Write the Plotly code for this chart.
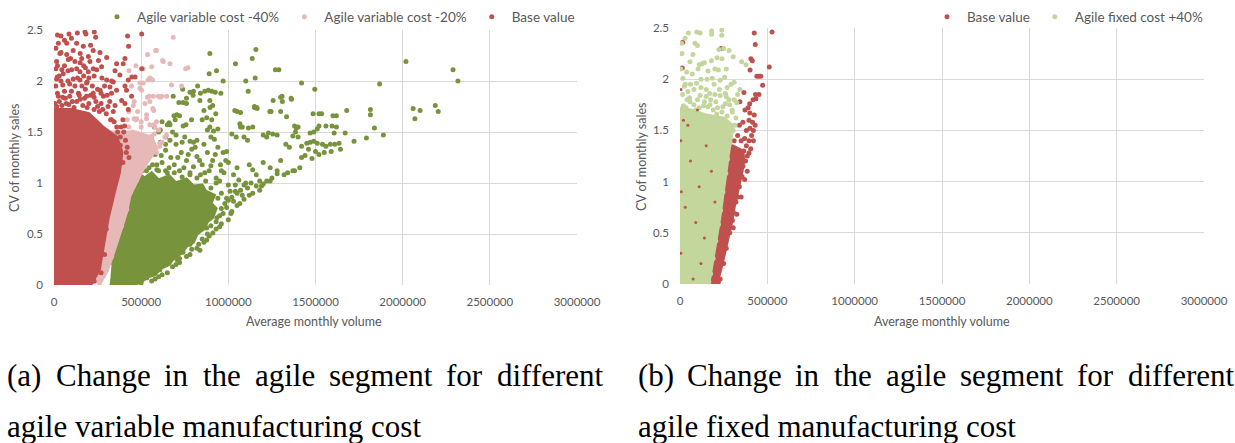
import plotly.graph_objects as go

W, H = 1235, 443

# ---------------- colours ----------------
C_GREEN = "#77933C"   # Agile variable cost -40%
C_PINK = "#E6B9B8"    # Agile variable cost -20%
C_RED = "#C0504D"     # Base value
C_LGREEN = "#C3D69B"  # Agile fixed cost +40%

# ---------------- axis ticks ----------------
x_ticks = [0, 500000, 1000000, 1500000, 2000000, 2500000, 3000000]
x_ticktext = ["0", "500000", "1000000", "1500000", "2000000", "2500000", "3000000"]
y_ticks = [0, 0.5, 1, 1.5, 2, 2.5]
y_ticktext = ["0", "0.5", "1", "1.5", "2", "2.5"]

# =============== (a) agile variable cost ===============
# dense cores (outline of the solid part of each cloud)
a_green_core_x = [320e3, 450e3, 500e3, 540e3, 580e3, 610e3, 660e3, 690e3, 730e3, 760e3, 800e3, 820e3, 860e3, 880e3, 910e3,
                  930e3, 900e3, 920e3, 870e3, 850e3, 800e3, 760e3, 700e3, 660e3, 600e3, 560e3, 520e3, 480e3, 420e3, 330e3]
a_green_core_y = [0.0, 0.0, 0.03, 0.08, 0.1, 0.16, 0.2, 0.27, 0.31, 0.38, 0.42, 0.5, 0.55, 0.62, 0.66,
                  0.75, 0.8, 0.88, 0.92, 0.98, 0.97, 1.04, 1.0, 1.07, 1.03, 1.1, 1.05, 1.1, 0.8, 0.2]
a_green_x = [894e3, 1158e3, 1041e3, 932e3, 890e3, 1137e3, 1154e3, 1270e3, 1290e3, 1420e3, 1496e3, 970e3, 1100e3, 1114e3, 824e3, 738e3,
             865e3, 885e3, 905e3, 925e3, 798e3, 760e3, 684e3, 716e3, 837e3, 894e3, 1308e3, 1257e3, 1362e3, 1163e3, 1150e3, 1037e3,
             1238e3, 1334e3, 1486e3, 928e3, 860e3, 789e3, 688e3, 695e3, 665e3, 741e3, 850e3, 876e3, 905e3, 1066e3, 1080e3, 1115e3,
             1140e3, 1380e3, 1400e3, 1230e3, 1255e3, 1280e3, 1490e3, 1510e3, 1020e3, 1045e3, 1370e3, 1400e3, 1470e3, 1490e3, 880e3,
             915e3, 940e3,
             2019e3, 2289e3, 2317e3, 1868e3, 2060e3, 2100e3, 2070e3, 2187e3, 2204e3, 1679e3, 1815e3, 1815e3, 1838e3, 1889e3, 1792e3,
             1721e3, 1670e3, 1607e3, 1643e3, 1535e3, 1600e3, 1620e3, 1520e3, 1560e3, 1595e3, 1620e3, 1469e3, 1450e3, 1510e3, 1540e3,
             1585e3, 1610e3, 1635e3, 1440e3, 1500e3, 1520e3, 1550e3, 1420e3, 1480e3,
             957e3, 780e3, 800e3, 840e3, 740e3, 760e3, 705e3, 720e3, 660e3, 650e3, 895e3, 910e3, 1050e3, 1070e3, 1150e3, 1165e3,
             1245e3, 1300e3, 1310e3, 1300e3, 1360e3, 1520e3, 1390e3, 1385e3, 1070e3, 894e3, 757e3, 780e3, 800e3, 820e3, 900e3, 920e3,
             970e3, 990e3, 1090e3, 1110e3, 1200e3, 1220e3, 1330e3, 1350e3, 1420e3, 1460e3, 1560e3, 1590e3, 1200e3, 1240e3, 1280e3,
             1300e3, 1340e3, 1380e3, 1140e3, 1160e3, 1180e3, 1120e3, 1030e3, 1060e3, 1000e3, 1050e3, 960e3, 1000e3,
             550e3, 580e3, 610e3, 640e3, 670e3, 700e3, 730e3, 760e3, 790e3, 820e3, 850e3, 880e3, 910e3, 940e3, 620e3, 660e3, 720e3,
             780e3, 840e3, 890e3, 930e3, 560e3, 600e3, 700e3, 750e3, 680e3, 640e3, 590e3, 520e3,
             533e3, 493e3, 550e3, 607e3, 640e3, 665e3, 705e3, 740e3, 780e3, 800e3, 837e3, 876e3, 876e3, 911e3, 934e3, 950e3, 990e3,
             1000e3, 1020e3, 1066e3, 1080e3, 1140e3, 1110e3, 1220e3, 1180e3, 1280e3, 1370e3, 1410e3, 1250e3, 1320e3, 1030e3, 970e3,
             420e3, 380e3, 345e3, 990e3, 1040e3, 1090e3, 1130e3, 1190e3,
             480e3, 505e3, 530e3, 545e3, 565e3, 600e3, 615e3, 650e3, 690e3, 710e3, 745e3, 770e3, 800e3, 835e3, 865e3, 900e3,
             925e3, 950e3, 975e3, 1010e3, 1040e3, 1070e3, 1100e3, 955e3, 985e3, 640e3, 665e3, 735e3, 810e3, 860e3, 500e3, 530e3,
             575e3, 620e3, 610e3,
             1015e3, 1050e3, 1090e3, 1120e3, 960e3, 930e3, 890e3, 860e3, 820e3, 780e3, 720e3, 680e3, 620e3, 580e3, 500e3, 1160e3,
             1200e3, 1240e3,
             560e3, 600e3, 650e3, 700e3, 720e3, 760e3, 790e3, 830e3, 850e3, 880e3, 900e3, 930e3, 950e3, 960e3, 980e3, 1000e3,
             940e3, 960e3, 1020e3, 1050e3, 900e3, 930e3, 870e3, 820e3, 780e3, 735e3, 690e3, 640e3, 590e3, 545e3, 505e3, 470e3]
a_green_y = [2.27, 2.31, 2.17, 2.10, 2.07, 2.22, 2.03, 2.11, 2.11, 1.98, 1.92, 2.00, 2.00, 1.90, 1.95, 1.92,
             1.90, 1.91, 1.90, 1.89, 1.86, 1.83, 1.85, 1.79, 1.81, 1.81, 1.85, 1.81, 1.82, 1.74, 1.75, 1.71,
             1.70, 1.65, 1.68, 1.68, 1.71, 1.62, 1.66, 1.62, 1.57, 1.56, 1.62, 1.64, 1.62, 1.58, 1.55, 1.54,
             1.55, 1.56, 1.55, 1.49, 1.48, 1.47, 1.50, 1.53, 1.48, 1.45, 1.46, 1.45, 1.40, 1.41, 1.52,
             1.51, 1.53,
             2.19, 2.11, 2.00, 1.97, 1.73, 1.71, 1.63, 1.76, 1.70, 1.71, 1.72, 1.67, 1.54, 1.47, 1.44,
             1.41, 1.49, 1.49, 1.33, 1.68, 1.66, 1.66, 1.56, 1.56, 1.56, 1.55, 1.49, 1.39, 1.39, 1.38,
             1.38, 1.38, 1.39, 1.27, 1.31, 1.28, 1.30, 1.25, 1.24,
             1.88, 1.89, 1.90, 1.88, 1.79, 1.78, 1.67, 1.66, 1.59, 1.57, 1.74, 1.76, 1.70, 1.69, 1.74, 1.73,
             1.70, 1.70, 1.80, 1.84, 1.83, 1.68, 1.54, 1.50, 1.55, 1.55, 1.57, 1.41, 1.40, 1.42, 1.45, 1.43,
             1.30, 1.31, 1.45, 1.42, 1.47, 1.45, 1.38, 1.35, 1.36, 1.33, 1.36, 1.31, 1.20, 1.15, 1.12,
             1.22, 1.10, 1.12, 1.13, 1.08, 1.02, 1.18, 1.08, 1.03, 1.20, 1.15, 1.12, 0.98,
             1.35, 1.28, 1.40, 1.32, 1.25, 1.38, 1.30, 1.22, 1.33, 1.26, 1.18, 1.30, 1.22, 1.35, 1.20, 1.15, 1.12,
             1.10, 1.08, 1.12, 1.05, 1.45, 1.50, 1.47, 1.45, 1.50, 1.45, 1.18, 1.40,
             0.07, 0.05, 0.15, 0.15, 0.22, 0.26, 0.25, 0.32, 0.40, 0.46, 0.34, 0.44, 0.56, 0.51, 0.66, 0.57, 0.76,
             0.64, 0.72, 0.80, 0.88, 0.90, 0.95, 1.02, 0.93, 1.09, 1.12, 1.15, 1.05, 1.08, 0.82, 0.70,
             0.02, 0.01, 0.0, 0.85, 0.92, 0.98, 1.0, 0.97,
             1.15, 1.22, 1.12, 1.25, 1.18, 1.12, 1.27, 1.10, 1.18, 1.25, 1.15, 1.28, 1.16, 1.22, 1.10, 1.17,
             1.28, 1.02, 1.10, 0.92, 0.98, 0.93, 1.00, 1.18, 1.22, 1.38, 1.42, 1.40, 1.35, 1.38, 1.30, 1.45,
             1.55, 1.60, 1.52,
             0.70, 0.78, 0.84, 0.88, 0.60, 0.55, 0.48, 0.42, 0.36, 0.30, 0.22, 0.18, 0.10, 0.06, 0.02, 0.97,
             0.99, 1.02,
             0.04, 0.08, 0.12, 0.20, 0.26, 0.28, 0.35, 0.40, 0.45, 0.50, 0.58, 0.62, 0.68, 0.75, 0.80, 0.83,
             0.85, 0.90, 0.86, 0.90, 0.95, 1.00, 1.02, 1.05, 1.08, 1.06, 1.10, 1.12, 1.13, 1.15, 1.12, 1.18]

a_pink_core_x = [150e3, 245e3, 283e3, 302e3, 331e3, 359e3, 388e3, 417e3, 436e3, 474e3, 512e3, 550e3, 590e3, 560e3, 470e3, 300e3, 150e3]
a_pink_core_y = [0.0, 0.03, 0.07, 0.13, 0.26, 0.42, 0.56, 0.72, 0.88, 1.01, 1.14, 1.24, 1.34, 1.45, 1.5, 1.5, 1.4]
a_pink_x = [684e3, 583e3, 537e3, 623e3, 665e3, 755e3, 768e3, 732e3, 540e3, 555e3, 565e3, 493e3, 503e3, 535e3, 545e3, 569e3,
            610e3, 618e3, 567e3, 572e3, 522e3, 460e3, 470e3, 531e3, 573e3, 578e3, 636e3, 645e3, 607e3, 520e3, 540e3, 560e3,
            470e3, 490e3, 588e3, 627e3, 560e3, 512e3, 674e3, 550e3, 512e3, 493e3, 598e3, 646e3, 550e3, 531e3, 474e3, 455e3,
            550e3, 588e3, 607e3, 588e3, 550e3, 512e3, 474e3, 436e3, 417e3, 388e3, 359e3, 331e3, 302e3, 283e3, 262e3, 270e3,
            620e3, 600e3, 575e3, 500e3, 480e3,
            430e3, 450e3, 470e3, 440e3, 500e3, 480e3, 460e3, 430e3, 420e3, 445e3, 430e3, 470e3]
a_pink_y = [2.43, 2.30, 2.26, 2.20, 2.17, 2.12, 2.13, 1.95, 2.01, 2.02, 2.01, 1.98, 1.91, 1.84, 1.85, 1.85,
            1.84, 1.85, 1.73, 1.71, 1.78, 1.63, 1.62, 1.63, 1.57, 1.55, 1.45, 1.47, 1.39, 1.45, 1.44, 1.46,
            1.37, 1.36, 2.30, 2.19, 2.14, 2.12, 1.96, 2.03, 1.98, 1.93, 1.85, 1.85, 1.80, 1.67, 1.63, 1.76,
            1.57, 1.60, 1.36, 1.30, 1.26, 1.16, 1.03, 0.90, 0.74, 0.58, 0.44, 0.28, 0.15, 0.09, 0.02, 0.05,
            1.40, 1.52, 1.48, 1.55, 1.30,
            1.55, 1.50, 1.45, 1.42, 1.60, 1.70, 1.80, 1.70, 1.62, 1.95, 2.10, 2.15]

a_red_core_x = [0, 210e3, 260e3, 285e3, 310e3, 345e3, 375e3, 390e3, 360e3, 280e3, 200e3, 100e3, 0]
a_red_core_y = [0.0, 0.0, 0.15, 0.4, 0.65, 0.9, 1.1, 1.3, 1.45, 1.55, 1.68, 1.72, 1.72]
a_red_x = [40e3, 86e3, 134e3, 178e3, 183e3, 231e3, 239e3, 130e3, 168e3, 73e3, 25e3, 11e3, 34e3, 73e3, 82e3, 120e3,
           159e3, 197e3, 225e3, 264e3, 302e3, 206e3, 225e3, 197e3, 149e3, 101e3, 245e3, 273e3, 302e3, 340e3, 321e3, 359e3,
           407e3, 426e3, 422e3, 428e3, 407e3, 397e3, 359e3, 378e3, 447e3, 465e3, 503e3, 416e3, 445e3, 407e3, 426e3, 388e3,
           11e3, 15e3, 19e3, 53e3, 187e3, 149e3, 264e3, 283e3, 225e3, 187e3, 503e3,
           400e3, 410e3, 420e3, 430e3, 395e3, 380e3, 360e3, 330e3, 300e3, 280e3, 250e3, 350e3,
           30e3, 60e3, 90e3, 120e3, 150e3, 200e3, 240e3, 320e3, 350e3, 10e3, 40e3, 110e3, 170e3, 220e3, 70e3, 130e3,
           20e3, 100e3, 180e3, 270e3, 160e3, 50e3, 80e3, 140e3, 210e3, 250e3, 5e3, 290e3, 130e3, 170e3, 60e3, 95e3,
           30e3, 200e3, 395e3, 405e3, 415e3, 380e3, 370e3, 300e3, 290e3, 270e3, 230e3,
           15e3, 45e3, 85e3, 115e3, 165e3, 190e3, 230e3, 260e3, 310e3, 340e3, 25e3, 65e3, 105e3, 145e3, 175e3, 230e3,
           270e3, 305e3, 330e3, 15e3, 50e3, 90e3, 135e3, 190e3, 230e3, 275e3, 20e3, 45e3, 80e3, 150e3, 180e3, 255e3,
           40e3, 110e3, 150e3, 210e3, 60e3, 100e3, 20e3, 330e3, 350e3, 325e3, 345e3, 365e3, 385e3]
a_red_y = [2.44, 2.46, 2.47, 2.48, 2.46, 2.48, 2.43, 2.37, 2.34, 2.37, 2.37, 2.32, 2.27, 2.26, 2.21, 2.19,
           2.22, 2.24, 2.30, 2.28, 2.23, 2.19, 2.12, 2.09, 2.09, 2.11, 2.11, 2.14, 2.01, 1.99, 1.94, 1.91,
           1.95, 2.01, 2.44, 2.34, 2.22, 2.17, 2.17, 2.06, 2.04, 2.04, 2.12, 1.91, 1.85, 1.78, 1.72, 1.81,
           2.12, 2.19, 2.04, 2.07, 1.98, 2.01, 1.91, 1.85, 1.88, 1.85, 2.46,
           1.50, 1.42, 1.35, 1.25, 1.20, 1.45, 1.55, 1.62, 1.68, 1.72, 1.75, 1.25,
           1.80, 1.90, 1.85, 1.95, 1.82, 1.78, 1.80, 1.80, 1.76, 1.95, 2.00, 2.02, 2.05, 1.95, 1.78, 1.80,
           1.88, 1.90, 1.92, 1.78, 1.95, 1.84, 2.00, 1.88, 1.86, 1.92, 1.78, 1.95, 2.12, 2.15, 2.15, 2.22,
           2.05, 2.03, 1.62, 1.56, 1.30, 1.37, 1.18, 0.55, 0.30, 0.12, 0.04,
           1.75, 1.76, 1.77, 1.74, 1.76, 1.74, 1.72, 1.70, 1.75, 1.70, 1.85, 1.83, 1.80, 1.86, 1.83, 1.84,
           1.88, 1.86, 1.88, 2.02, 1.96, 1.97, 2.03, 1.99, 2.05, 2.03, 2.15, 2.11, 2.10, 2.18, 2.13, 2.20,
           2.28, 2.30, 2.27, 2.35, 2.40, 2.42, 2.45, 2.00, 2.10, 1.62, 1.60, 1.50, 1.55]

# =============== (b) agile fixed cost ===============
b_red_core_x = [0, 190e3, 215e3, 235e3, 255e3, 275e3, 295e3, 310e3, 330e3, 345e3, 355e3, 365e3, 360e3, 300e3, 0]
b_red_core_y = [0.0, 0.0, 0.03, 0.15, 0.3, 0.45, 0.6, 0.75, 0.9, 1.0, 1.1, 1.2, 1.3, 1.35, 1.35]
b_red_x = [230e3, 220e3, 250e3, 265e3, 285e3, 300e3, 305e3, 320e3, 330e3, 340e3, 355e3, 360e3, 375e3, 385e3, 365e3, 380e3,
           395e3, 370e3, 350e3, 410e3, 420e3, 400e3, 380e3, 430e3, 415e3, 395e3, 360e3, 340e3, 425e3, 400e3, 372e3, 390e3,
           399e3, 343e3, 418e3, 435e3, 432e3, 452e3, 366e3, 473e3, 440e3, 452e3, 463e3, 401e3, 511e3, 406e3, 414e3, 431e3,
           425e3, 527e3, 235e3, 15e3, 13e3, 330e3, 310e3, 420e3, 405e3, 395e3, 385e3, 370e3, 350e3, 325e3, 305e3]
b_red_y = [0.05, 0.02, 0.20, 0.35, 0.50, 0.62, 0.70, 0.80, 0.85, 0.95, 1.05, 1.15, 1.20, 1.25, 1.30, 1.35,
           1.40, 1.42, 1.40, 1.45, 1.50, 1.52, 1.50, 1.55, 1.58, 1.60, 1.58, 1.55, 1.65, 1.67, 1.70, 1.72,
           1.76, 1.78, 1.80, 1.81, 1.85, 1.85, 1.87, 1.94, 2.03, 2.03, 2.03, 2.09, 2.12, 2.20, 2.18, 2.34,
           2.45, 2.46, 2.30, 2.36, 2.11, 1.45, 1.40, 1.40, 1.32, 1.28, 1.10, 1.02, 0.85, 0.68, 0.55]
# base-value points showing through gaps of the +40% cloud
b_red_speck_x = [5e3, 8e3, 4e3, 6e3, 60e3, 110e3, 150e3, 90e3, 30e3, 180e3, 120e3, 45e3, 200e3, 75e3, 140e3, 100e3, 20e3]
b_red_speck_y = [0.3, 0.9, 1.4, 1.9, 1.2, 0.95, 1.35, 0.6, 0.75, 1.1, 0.2, 1.55, 0.8, 0.05, 0.45, 1.7, 1.6]

b_green_core_x = [0, 150e3, 170e3, 185e3, 200e3, 215e3, 228e3, 240e3, 255e3, 268e3, 280e3, 295e3, 300e3, 250e3, 150e3, 60e3, 0]
b_green_core_y = [0.0, 0.0, 0.05, 0.2, 0.35, 0.5, 0.65, 0.8, 1.0, 1.15, 1.3, 1.45, 1.55, 1.62, 1.65, 1.7, 1.72]
b_green_x = [165e3, 175e3, 190e3, 205e3, 220e3, 232e3, 246e3, 262e3, 272e3, 287e3, 305e3, 315e3, 320e3, 300e3, 240e3, 132e3,
             172e3, 57e3, 80e3, 298e3, 325e3, 200e3, 230e3, 260e3, 170e3, 80e3, 343e3, 292e3, 310e3, 155e3, 120e3, 185e3,
             230e3, 255e3, 17e3, 38e3, 103e3, 200e3, 220e3, 126e3, 110e3, 140e3, 57e3, 212e3, 240e3, 305e3, 353e3, 378e3,
             281e3, 223e3, 11e3, 74e3, 86e3, 100e3, 29e3, 48e3, 96e3, 115e3, 181e3, 181e3, 239e3, 239e3, 30e3, 60e3,
             100e3, 140e3, 260e3, 280e3, 15e3, 45e3, 120e3, 190e3, 215e3, 330e3, 270e3, 150e3, 5e3, 160e3, 70e3, 265e3,
             180e3, 250e3, 8e3, 20e3, 110e3, 160e3, 210e3, 270e3, 40e3,
             35e3, 90e3, 135e3, 205e3, 245e3, 285e3, 55e3, 115e3, 175e3, 225e3, 265e3, 310e3, 25e3, 95e3, 150e3, 195e3]
b_green_y = [0.02, 0.10, 0.25, 0.42, 0.58, 0.72, 0.90, 1.08, 1.22, 1.38, 1.50, 1.55, 1.62, 1.68, 1.68, 1.64,
             1.75, 1.78, 1.75, 1.70, 1.77, 1.85, 1.84, 1.86, 1.86, 1.90, 1.90, 1.95, 1.97, 2.00, 2.00, 2.01,
             1.99, 2.02, 2.01, 2.07, 2.10, 2.10, 2.09, 2.15, 2.14, 2.16, 2.17, 2.21, 2.20, 2.22, 2.17, 2.14,
             2.28, 2.29, 2.25, 2.24, 2.35, 2.33, 2.40, 2.45, 2.46, 2.45, 2.47, 2.44, 2.48, 2.43, 1.95, 1.95,
             1.80, 1.78, 1.76, 1.80, 1.85, 1.88, 1.92, 1.70, 1.72, 1.85, 1.92, 1.90, 2.10, 2.08, 2.05, 2.10,
             2.18, 2.30, 2.35, 1.74, 1.72, 1.73, 1.66, 1.64, 1.80,
             1.72, 1.70, 1.74, 1.78, 1.73, 1.75, 1.82, 1.84, 1.80, 1.90, 1.83, 1.80, 1.93, 1.96, 1.83, 1.95]

# ---------------- captions ----------------
cap_a_line1 = ["(a)", "Change", "in", "the", "agile", "segment", "for", "different"]
cap_b_line1 = ["(b)", "Change", "in", "the", "agile", "segment", "for", "different"]
cap_word_offsets = [0, 48.5, 157.3, 195.5, 247.5, 321.9, 439.3, 489.5]   # px, justified line
cap_a_line2 = "agile variable manufacturing cost"
cap_b_line2 = "agile fixed manufacturing cost"

# =====================================================
def px_x(p):
    return p / W


def px_y(p):
    return 1 - p / H


MS = 5
fig = go.Figure()


def core(x, y, color, xa, ya, group):
    fig.add_trace(go.Scatter(x=x, y=y, mode="lines", fill="toself", fillcolor=color,
                             line=dict(color=color, width=3), hoverinfo="skip",
                             showlegend=False, legendgroup=group, xaxis=xa, yaxis=ya))


def pts(x, y, color, name, xa, ya, group, legend, show=True, size=MS):
    fig.add_trace(go.Scatter(x=x, y=y, mode="markers", name=name,
                             marker=dict(color=color, size=size, line=dict(width=0)),
                             showlegend=show, legendgroup=group, legend=legend,
                             xaxis=xa, yaxis=ya))


# (a) draw order: -40% under -20% under base
core(a_green_core_x, a_green_core_y, C_GREEN, "x", "y", "ag")
pts(a_green_x, a_green_y, C_GREEN, "Agile variable cost -40%", "x", "y", "ag", "legend")
core(a_pink_core_x, a_pink_core_y, C_PINK, "x", "y", "ap")
pts(a_pink_x, a_pink_y, C_PINK, "Agile variable cost -20%", "x", "y", "ap", "legend")
core(a_red_core_x, a_red_core_y, C_RED, "x", "y", "ar")
pts(a_red_x, a_red_y, C_RED, "Base value", "x", "y", "ar", "legend")

# (b) base under +40%
core(b_red_core_x, b_red_core_y, C_RED, "x2", "y2", "br")
pts(b_red_x, b_red_y, C_RED, "Base value", "x2", "y2", "br", "legend2")
core(b_green_core_x, b_green_core_y, C_LGREEN, "x2", "y2", "bg")
pts(b_green_x, b_green_y, C_LGREEN, "Agile fixed cost +40%", "x2", "y2", "bg", "legend2")
pts(b_red_speck_x, b_red_speck_y, C_RED, "Base value", "x2", "y2", "br", "legend2", show=False, size=3)

TICKFONT = dict(family="Lato, Open Sans, sans-serif", size=11.5, color="#595959")
GRID = "#D9D9D9"

xaxis_common = dict(range=[0, 3000000], tickvals=x_ticks, ticktext=x_ticktext, showgrid=True, gridcolor=GRID,
                    gridwidth=1, zeroline=False, showline=False, ticks="", tickfont=TICKFONT,
                    ticklabelstandoff=8, automargin=False, fixedrange=True)
yaxis_common = dict(range=[0, 2.5], tickvals=y_ticks, ticktext=y_ticktext, showgrid=True, gridcolor=GRID,
                    gridwidth=1, zeroline=False, showline=False, ticks="", tickfont=TICKFONT,
                    ticklabelstandoff=10, automargin=False, fixedrange=True)

LEGFONT = dict(family="Lato, sans-serif", size=13.5, color="#595959")
fig.update_layout(
    width=W, height=H,
    margin=dict(l=0, r=0, t=0, b=0),
    paper_bgcolor="white", plot_bgcolor="white",
    xaxis=dict(domain=[px_x(54), px_x(577)], anchor="y", **xaxis_common),
    yaxis=dict(domain=[px_y(285), px_y(30)], anchor="x", **yaxis_common),
    xaxis2=dict(domain=[px_x(680), px_x(1204)], anchor="y2", **xaxis_common),
    yaxis2=dict(domain=[px_y(284), px_y(28)], anchor="x2", **yaxis_common),
    legend=dict(orientation="h", x=px_x(580), xanchor="right", y=px_y(17), yanchor="middle",
                bgcolor="rgba(0,0,0,0)", font=LEGFONT, itemclick=False, itemdoubleclick=False, tracegroupgap=0),
    legend2=dict(orientation="h", x=px_x(1208), xanchor="right", y=px_y(17), yanchor="middle",
                 bgcolor="rgba(0,0,0,0)", font=LEGFONT, itemclick=False, itemdoubleclick=False, tracegroupgap=0),
    showlegend=True,
)

AXT = dict(family="Lato, Open Sans, sans-serif", size=12.5, color="#595959")
ann = []
ann.append(dict(text="Average monthly volume", x=px_x(314), y=px_y(321), xref="paper", yref="paper",
                showarrow=False, font=AXT, xanchor="center", yanchor="middle"))
ann.append(dict(text="Average monthly volume", x=px_x(942), y=px_y(321), xref="paper", yref="paper",
                showarrow=False, font=AXT, xanchor="center", yanchor="middle"))
ann.append(dict(text="CV of monthly sales", x=px_x(14), y=px_y(158), xref="paper", yref="paper",
                showarrow=False, font=AXT, textangle=-90, xanchor="center", yanchor="middle"))
ann.append(dict(text="CV of monthly sales", x=px_x(641), y=px_y(157), xref="paper", yref="paper",
                showarrow=False, font=AXT, textangle=-90, xanchor="center", yanchor="middle"))

CAP = dict(family="Liberation Serif, Times New Roman, serif", size=31, color="#000000")
for start, words, line2 in [(5, cap_a_line1, cap_a_line2), (636, cap_b_line1, cap_b_line2)]:
    for w, off in zip(words, cap_word_offsets):
        ann.append(dict(text=w, x=px_x(start + off), y=px_y(375), xref="paper", yref="paper",
                        showarrow=False, font=CAP, xanchor="left", yanchor="middle"))
    ann.append(dict(text=line2, x=px_x(start), y=px_y(426), xref="paper", yref="paper",
                    showarrow=False, font=CAP, xanchor="left", yanchor="middle"))

fig.update_layout(annotations=ann)
fig.write_html("out.html", config={"displayModeBar": False},
               post_script="document.body.style.margin='0';document.body.style.overflow='hidden';")
